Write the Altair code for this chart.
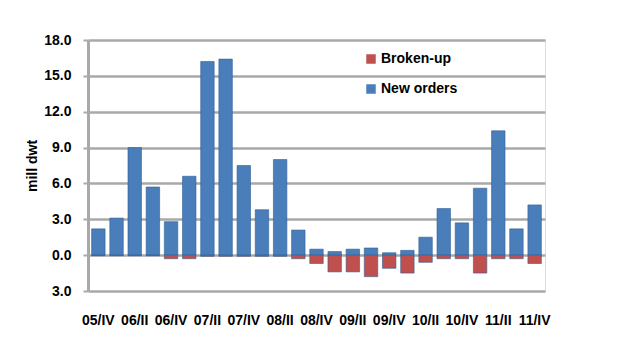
import altair as alt
import pandas as pd

quarters = ["05/IV", "06/I", "06/II", "06/III", "06/IV", "07/I", "07/II", "07/III", "07/IV",
            "08/I", "08/II", "08/III", "08/IV", "09/I", "09/II", "09/III", "09/IV",
            "10/I", "10/II", "10/III", "10/IV", "11/I", "11/II", "11/III", "11/IV"]
new_orders = [2.2, 3.1, 9.0, 5.7, 2.8, 6.6, 16.2, 16.4, 7.5, 3.8, 8.0, 2.1, 0.5,
              0.3, 0.5, 0.6, 0.2, 0.4, 1.5, 3.9, 2.7, 5.6, 10.4, 2.2, 4.2]
broken_up = [-0.05, -0.05, -0.05, -0.05, -0.3, -0.3, -0.1, -0.1, -0.1, -0.1, -0.1, -0.3, -0.7,
             -1.4, -1.4, -1.8, -1.1, -1.5, -0.6, -0.3, -0.3, -1.5, -0.3, -0.3, -0.7]
shown_labels = ["05/IV", "06/II", "06/IV", "07/II", "07/IV", "08/II", "08/IV",
                "09/II", "09/IV", "10/II", "10/IV", "11/II", "11/IV"]

rows = []
for q, n, b in zip(quarters, new_orders, broken_up):
    rows.append({"quarter": q, "series": "New orders", "value": n})
    rows.append({"quarter": q, "series": "Broken-up", "value": b})
df = pd.DataFrame(rows)

FONT = "Liberation Sans"

chart = alt.Chart(df).mark_bar(stroke="#2f5f94", strokeWidth=0.6).encode(
    x=alt.X("quarter:N", sort=quarters,
            scale=alt.Scale(paddingInner=0.26, paddingOuter=0.2),
            axis=alt.Axis(values=shown_labels, title=None, labelAngle=0,
                          labelFontSize=14, labelFontWeight="bold", labelFont=FONT,
                          labelColor="black", domain=False, ticks=False,
                          labelPadding=22, labelFlush=False)),
    y=alt.Y("value:Q", stack=None,
            scale=alt.Scale(domain=[-3, 18], nice=False),
            axis=alt.Axis(values=[-3, 0, 3, 6, 9, 12, 15, 18],
                          labelExpr="format(abs(datum.value), '.1f')",
                          title="mill dwt", titleFont=FONT, titleFontSize=14,
                          titleFontWeight="bold", titlePadding=4, titleColor="black",
                          labelFontSize=14, labelFontWeight="bold", labelFont=FONT,
                          labelColor="black", labelPadding=12,
                          grid=True, gridColor="#a9a9a9", gridWidth=2.5,
                          domainColor="#a9a9a9", domainWidth=3,
                          tickColor="#a9a9a9", tickWidth=2, tickSize=5)),
    color=alt.Color("series:N",
                    scale=alt.Scale(domain=["Broken-up", "New orders"],
                                    range=["#c0504d", "#4a7ebb"]),
                    legend=alt.Legend(title=None, orient="none", legendX=276, legendY=12,
                                      symbolType="square", symbolSize=90,
                                      symbolStrokeWidth=0,
                                      labelFont=FONT, labelFontSize=14,
                                      labelFontWeight="bold", labelColor="black",
                                      rowPadding=16, labelOffset=3)),
).properties(
    width=457, height=251,
    autosize=alt.AutoSizeParams(type="none"),
    padding={"left": 88, "top": 40, "right": 88, "bottom": 65},
).configure_view(stroke=None).configure(background="white")

chart.save("out.html", embed_options={"renderer": "svg", "actions": False})
